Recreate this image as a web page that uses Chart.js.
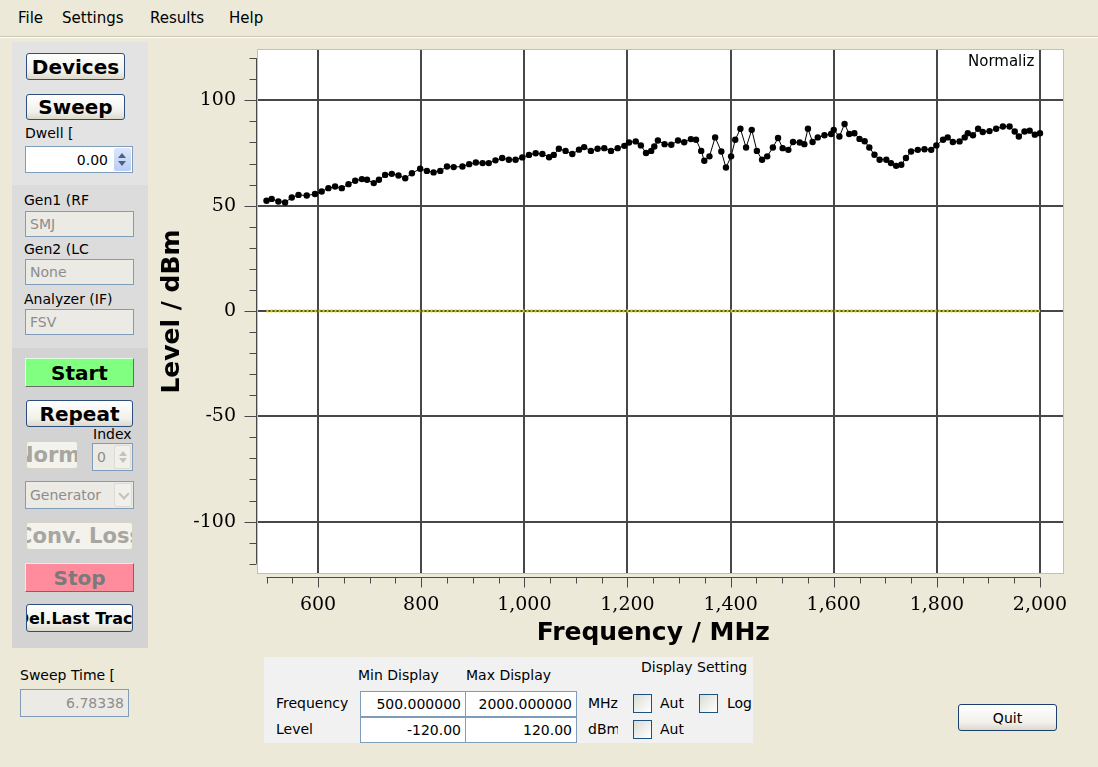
<!DOCTYPE html>
<html lang="en">
<head>
  <meta charset="UTF-8">
  <title>Sweep</title>
  <style>
    body {
      margin: 0;
      width: 1098px;
      height: 767px;
      background: #ece9d8;
      font-family: "DejaVu Sans", sans-serif;
      font-size: 14px;
      position: relative;
      overflow: hidden;
      color: #000;
    }
    .a { position: absolute; }
    .menu { top: 0; left: 0; width: 1098px; height: 36px; border-bottom: 1px solid #c9c5b2; box-shadow: 0 1px 0 #fff; }
    .menu span { position: absolute; top: 9px; font-size: 15px; }
    .sec { position: absolute; left: 12px; width: 136px; }
    .lbl { position: absolute; white-space: nowrap; overflow: hidden; font-size: 14px; }
    .btn {
      position: absolute; box-sizing: border-box; border: 1px solid #2e4f7e; border-radius: 3px;
      background: linear-gradient(#ffffff, #f1f0ea 70%, #dcd9cc);
      font-weight: bold; font-size: 20px; display: flex; align-items: center; justify-content: center;
      overflow: hidden; white-space: nowrap;
    }
    .btn span { flex: none; }
    .btn.dis { border-color: #d6d4c8; background: #f3f2ec; color: #a7a6a0; }
    .btn.start { background: #80ff80; border: 1px solid #6c6c6c; border-top-color: #e0ffe0; border-left-color: #e0ffe0; border-radius: 0; }
    .btn.stop { background: #ff8c9c; border: 1px solid #6c6c6c; border-top-color: #ffe0e4; border-left-color: #ffe0e4; border-radius: 0; color: #7a7a7a; }
    .inp {
      position: absolute; box-sizing: border-box; border: 1px solid #7f9db9; background: #fff;
      font-size: 14px; padding: 0 4px; display: flex; align-items: center; overflow: hidden; white-space: nowrap;
    }
    .inp.dis { background: #ebeae4; color: #8d8d8d; }
    .inp.r { justify-content: flex-end; }
    .spin { position: absolute; right: 1px; top: 1px; bottom: 1px; width: 17px; background: linear-gradient(#dbe6fb, #b9cdf5); border-radius: 2px; }
    .spin.dis { background: #f1f0ea; border: 1px solid #dedcd2; box-sizing: border-box; }
    .up, .dn { position: absolute; left: 4px; width: 0; height: 0; border-left: 4px solid transparent; border-right: 4px solid transparent; }
    .up { top: 5px; border-bottom: 5px solid #4d6185; }
    .dn { bottom: 5px; border-top: 5px solid #4d6185; }
    .spin.dis .up { border-bottom-color: #c4c3bb; }
    .spin.dis .dn { border-top-color: #c4c3bb; }
    .chev { position: absolute; left: 5px; top: 6px; width: 6px; height: 6px; border-right: 2px solid #c4c3bb; border-bottom: 2px solid #c4c3bb; transform: rotate(45deg); }
    .chk { position: absolute; box-sizing: border-box; width: 19px; height: 19px; border: 1px solid #1c5180; background: linear-gradient(135deg, #dcdcd5, #fff); }
    #plotBox { position: absolute; left: 140px; top: 40px; width: 940px; height: 620px; }
  </style>
</head>
<body>

  <div class="a menu">
    <span style="left:18px">File</span>
    <span style="left:62px">Settings</span>
    <span style="left:150px">Results</span>
    <span style="left:229px">Help</span>
  </div>

  <!-- left control panel -->
  <div class="sec" style="top:42px;height:143px;background:#e3e3e3"></div>
  <div class="sec" style="top:185px;height:163px;background:#dcdcdc"></div>
  <div class="sec" style="top:348px;height:300px;background:#d3d3d3"></div>

  <div class="btn" style="left:26px;top:53px;width:99px;height:27px">Devices</div>
  <div class="btn" style="left:26px;top:94px;width:99px;height:26px">Sweep</div>
  <div class="lbl" style="left:25px;top:125px">Dwell [</div>
  <div class="inp r" style="left:25px;top:146px;width:108px;height:27px;padding-right:24px">0.00
    <div class="spin"><div class="up"></div><div class="dn"></div></div>
  </div>

  <div class="lbl" style="left:24px;top:192px">Gen1 (RF</div>
  <div class="inp dis" style="left:25px;top:211px;width:109px;height:26px">SMJ</div>
  <div class="lbl" style="left:24px;top:241px">Gen2 (LC</div>
  <div class="inp dis" style="left:25px;top:259px;width:109px;height:26px">None</div>
  <div class="lbl" style="left:24px;top:291px;width:109px">Analyzer (IF)</div>
  <div class="inp dis" style="left:25px;top:309px;width:109px;height:26px">FSV</div>

  <div class="btn start" style="left:25px;top:358px;width:109px;height:29px">Start</div>
  <div class="btn" style="left:26px;top:400px;width:107px;height:27px">Repeat</div>
  <div class="lbl" style="left:93px;top:426px">Index</div>
  <div class="btn dis" style="left:26px;top:441px;width:52px;height:28px;font-size:21px"><span>Norm.</span></div>
  <div class="inp dis" style="left:92px;top:443px;width:41px;height:28px">0
    <div class="spin dis"><div class="up"></div><div class="dn"></div></div>
  </div>
  <div class="inp dis" style="left:25px;top:481px;width:109px;height:28px">Generator
    <div class="spin dis" style="width:18px"><div class="chev"></div></div>
  </div>
  <div class="btn dis" style="left:26px;top:522px;width:107px;height:28px;font-size:21px"><span>Conv. Loss</span></div>
  <div class="btn stop" style="left:25px;top:563px;width:109px;height:29px">Stop</div>
  <div class="btn" style="left:26px;top:604px;width:107px;height:28px;font-size:16px"><span>Del.Last Trace</span></div>

  <div class="lbl" style="left:20px;top:667px">Sweep Time [</div>
  <div class="inp dis r" style="left:20px;top:689px;width:109px;height:28px">6.78338</div>

  <!-- display settings panel -->
  <div class="a" style="left:264px;top:657px;width:489px;height:86px;background:#f1f1f1;overflow:hidden">
    <div class="lbl" style="left:94px;top:10px;width:100px">Min Display</div>
    <div class="lbl" style="left:202px;top:10px;width:92px">Max Display</div>
    <div class="lbl" style="left:377px;top:2px">Display Setting</div>
    <div class="lbl" style="left:12px;top:38px;width:72px">Frequency</div>
    <div class="inp r" style="left:96px;top:34px;width:106px;height:26px">500.000000</div>
    <div class="inp r" style="left:201px;top:34px;width:112px;height:26px">2000.000000</div>
    <div class="lbl" style="left:324px;top:38px;width:30px">MHz</div>
    <div class="chk" style="left:369px;top:37px"></div>
    <div class="lbl" style="left:396px;top:38px">Aut</div>
    <div class="chk" style="left:435px;top:37px"></div>
    <div class="lbl" style="left:463px;top:38px">Log</div>
    <div class="lbl" style="left:12px;top:64px">Level</div>
    <div class="inp r" style="left:96px;top:60px;width:106px;height:26px">-120.00</div>
    <div class="inp r" style="left:201px;top:60px;width:112px;height:26px">120.00</div>
    <div class="lbl" style="left:324px;top:64px;width:30px">dBm</div>
    <div class="chk" style="left:369px;top:63px"></div>
    <div class="lbl" style="left:396px;top:64px">Aut</div>
  </div>

  <div class="btn" style="left:958px;top:704px;width:99px;height:27px;font-weight:normal;font-size:14px;border-color:#1c3f6e">Quit</div>

  <div id="plotBox"><canvas id="levelChart"></canvas></div>

  <script src="https://cdn.jsdelivr.net/npm/chart.js"></script>
  <script>
    // measured trace (MHz / dBm)
    const freqs = [500, 510, 523, 536, 549, 562, 578, 594, 607, 620,
      633, 646, 659, 672, 685, 695, 708, 718, 730, 743,
      756, 769, 782, 798, 811, 824, 837, 850, 863, 880,
      893, 906, 919, 931, 944, 957, 970, 983, 996, 1009,
      1022, 1035, 1048, 1057, 1067, 1080, 1093, 1106, 1116, 1129,
      1142, 1155, 1168, 1181, 1194, 1203, 1216, 1226, 1236, 1246,
      1252, 1259, 1272, 1285, 1298, 1310, 1323, 1333, 1343, 1349,
      1359, 1370, 1382, 1391, 1401, 1409, 1419, 1430, 1441, 1451,
      1461, 1471, 1482, 1492, 1501, 1512, 1521, 1534, 1543, 1550,
      1559, 1569, 1582, 1595, 1600, 1611, 1621, 1630, 1640, 1650,
      1660, 1669, 1679, 1689, 1702, 1711, 1721, 1731, 1740, 1750,
      1763, 1776, 1789, 1799, 1812, 1821, 1831, 1844, 1854, 1860,
      1870, 1880, 1889, 1902, 1915, 1928, 1941, 1951, 1959, 1970,
      1980, 1990, 2000];
    const levels = [52.3, 53.2, 52, 51.5, 53.9, 55.1, 54.8, 55.5, 56.7, 58.3,
      59.1, 58.3, 60.2, 61.8, 62.6, 62.3, 60.7, 62.3, 64.6, 65.1,
      64.3, 63, 65.4, 67.5, 66.5, 65.8, 66.5, 68.6, 68.3, 68.6,
      69.7, 70.5, 70.2, 70.2, 71.5, 72.6, 71.8, 71.8, 72.9, 74.1,
      74.9, 74.5, 73, 74.1, 77, 76, 74.5, 76.6, 77.8, 76,
      77, 77.3, 76, 77.3, 78.4, 80, 80.5, 78.6, 75, 76,
      78.1, 80.9, 79.2, 78.9, 80.9, 80.1, 81.6, 81.3, 76, 71.3,
      73.4, 82.4, 75.7, 68.1, 73.4, 81.3, 86.5, 77.6, 86, 76,
      71.8, 73.4, 77.6, 82.1, 77.3, 76.5, 80.2, 80, 79.2, 86.5,
      80.2, 82.4, 83.4, 84, 86, 82.8, 88.8, 84, 84.4, 81.7,
      80.6, 77.6, 74.2, 71.8, 71.8, 70.2, 68.9, 69.4, 72.6, 75.7,
      76.5, 76.8, 76.5, 78.6, 81.3, 82.4, 80.2, 80.5, 82.4, 84.4,
      83.4, 86.5, 85, 85.4, 86.5, 87.6, 87.6, 85.2, 82.8, 85.2,
      85.6, 83.7, 84.4];

    // normalization trace (flat at 0 dBm)
    const normFreqs = [500, 2000];
    const normLevels = [0, 0];

    // labelled ticks and all axis ticks
    const xTicks = [600, 800, 1000, 1200, 1400, 1600, 1800, 2000];
    const yTicks = [-100, -50, 0, 50, 100];
    const xAxisTicks = [500, 550, 600, 650, 700, 750, 800, 850, 900, 950, 1000,
      1050, 1100, 1150, 1200, 1250, 1300, 1350, 1400, 1450, 1500,
      1550, 1600, 1650, 1700, 1750, 1800, 1850, 1900, 1950, 2000];
    const yAxisTicks = [-120, -110, -100, -90, -80, -70, -60, -50, -40, -30, -20, -10,
      0, 10, 20, 30, 40, 50, 60, 70, 80, 90, 100, 110, 120];

    const frame = {
      id: 'frame',
      beforeDraw(chart) {
        const { ctx, chartArea: a } = chart;
        ctx.save();
        ctx.fillStyle = '#fff';
        ctx.fillRect(a.left, a.top, a.width, a.height);
        ctx.strokeStyle = '#c4c0ae';
        ctx.lineWidth = 1;
        ctx.strokeRect(a.left - 0.5, a.top - 0.5, a.width + 1, a.height + 1);
        ctx.restore();
      },
      afterDraw(chart) {
        const { ctx, chartArea: a, scales: { x, y } } = chart;
        ctx.save();
        ctx.strokeStyle = '#4a4a4a';
        ctx.lineWidth = 1;
        ctx.beginPath();
        // left axis
        const ax = a.left - 1.5;
        ctx.moveTo(ax, y.getPixelForValue(120));
        ctx.lineTo(ax, y.getPixelForValue(-120));
        yAxisTicks.forEach(v => {
          const p = Math.round(y.getPixelForValue(v)) + 0.5;
          ctx.moveTo(ax, p);
          ctx.lineTo(ax - (v % 50 === 0 ? 12 : 7), p);
        });
        // bottom axis
        const ay = a.bottom + 4.5;
        ctx.moveTo(x.getPixelForValue(500), ay);
        ctx.lineTo(x.getPixelForValue(2000), ay);
        xAxisTicks.forEach(v => {
          const p = Math.round(x.getPixelForValue(v)) + 0.5;
          ctx.moveTo(p, ay);
          ctx.lineTo(p, ay + (v % 200 === 0 ? 10 : 6));
        });
        ctx.stroke();

        ctx.fillStyle = '#000';
        ctx.textBaseline = 'middle';
        ctx.font = 'bold 25px "DejaVu Sans"';
        ctx.textAlign = 'center';
        const mid = (x.getPixelForValue(500) + x.getPixelForValue(2000)) / 2;
        ctx.fillText('Frequency / MHz', mid, a.bottom + 60);

        ctx.font = '15px "DejaVu Sans"';
        ctx.textAlign = 'left';
        ctx.fillText('Normaliz', a.right - 95, a.top + 12);
        ctx.restore();
      }
    };

    // fix the axis boxes so the plot area lands where the reference has it
    function fixBox(s, size) {
      if (s.isHorizontal()) s.height = size; else s.width = size;
      s.paddingTop = 0;
      s.paddingBottom = 0;
      s.paddingLeft = 0;
      s.paddingRight = 0;
    }

    const tickFont = { family: '"DejaVu Serif", serif', size: 19 };

    new Chart(document.getElementById('levelChart'), {
      type: 'line',
      data: {
        datasets: [{
          label: 'Trace',
          data: freqs.map((f, i) => ({ x: f, y: levels[i] })),
          borderColor: '#000',
          borderWidth: 1,
          pointRadius: 3.2,
          pointBackgroundColor: '#000',
          pointBorderWidth: 0,
          tension: 0
        }, {
          label: 'Normalized',
          data: normFreqs.map((f, i) => ({ x: f, y: normLevels[i] })),
          borderColor: '#d2d200',
          borderWidth: 3,
          borderDash: [2, 2],
          pointRadius: 0
        }]
      },
      options: {
        responsive: true,
        maintainAspectRatio: false,
        animation: false,
        layout: { padding: { top: 10, right: 17, left: 0, bottom: 0 } },
        plugins: { legend: { display: false }, tooltip: { enabled: false } },
        scales: {
          x: {
            type: 'linear',
            min: 483.5,
            max: 2044.6,
            afterFit: s => fixBox(s, 87),
            afterBuildTicks: s => { s.ticks = xTicks.map(v => ({ value: v })); },
            grid: { color: '#474747', lineWidth: 2, drawTicks: false },
            border: { display: false },
            ticks: {
              padding: 21, maxRotation: 0, autoSkip: false, color: '#000', font: tickFont,
              callback: v => v.toLocaleString('en-US')
            }
          },
          y: {
            min: -124.4,
            max: 123.9,
            afterFit: s => fixBox(s, 118),
            afterBuildTicks: s => { s.ticks = yTicks.map(v => ({ value: v })); },
            grid: { color: '#474747', lineWidth: 2, drawTicks: false },
            border: { display: false },
            ticks: { padding: 22, color: '#000', font: tickFont },
            title: {
              display: true,
              text: 'Level / dBm',
              color: '#000',
              font: { family: '"DejaVu Sans"', size: 25, weight: 'bold', lineHeight: 1.2 },
              padding: { top: 17 }
            }
          }
        }
      },
      plugins: [frame]
    });
  </script>

</body>
</html>
